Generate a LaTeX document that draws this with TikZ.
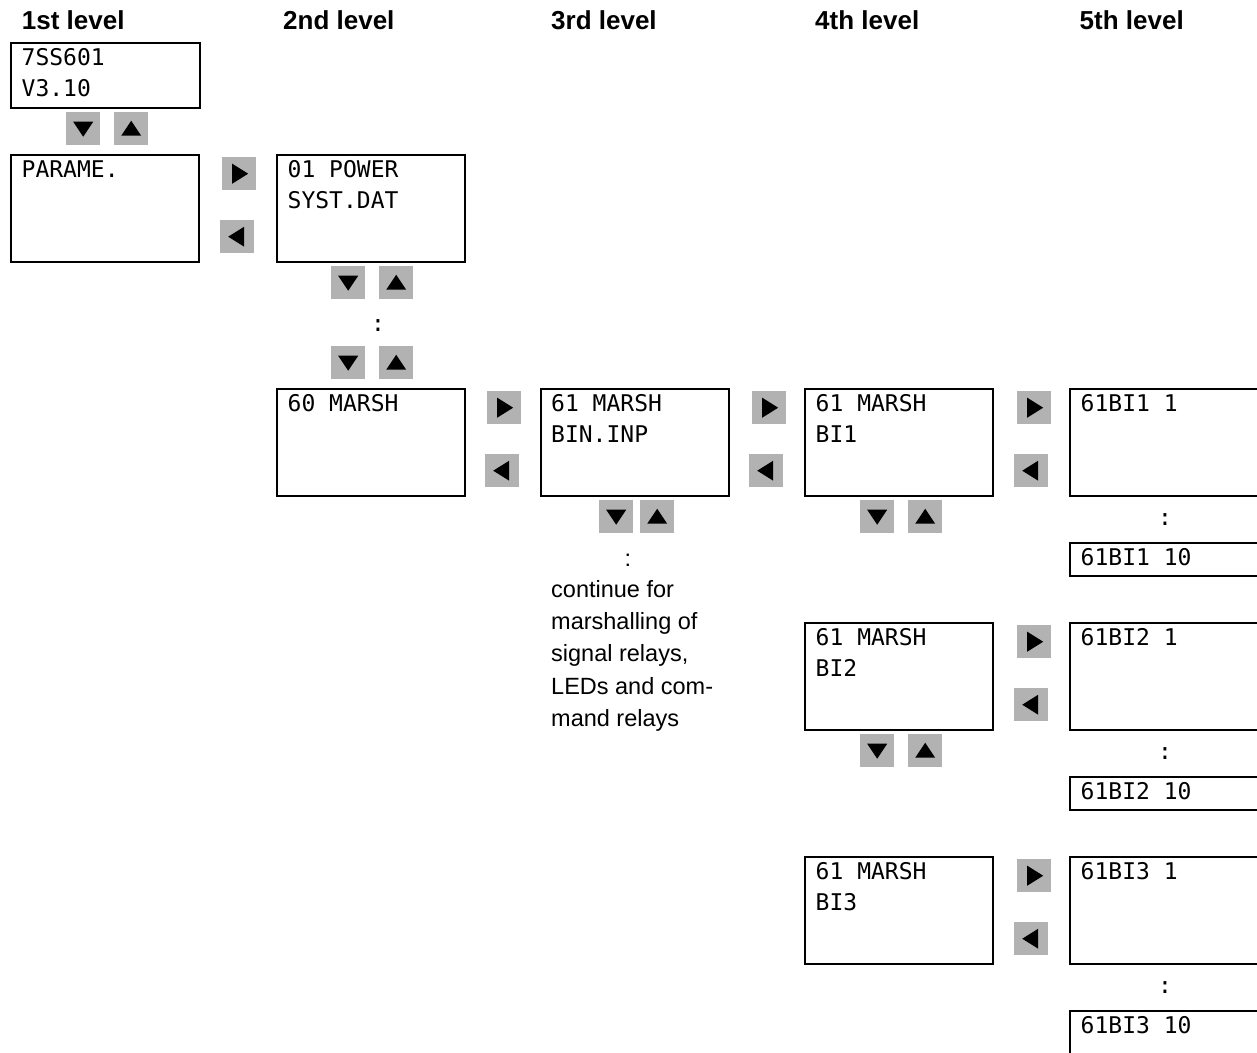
\documentclass[tikz,border=0pt]{standalone}
\usepackage{fontspec}
\setmainfont{Liberation Sans}
\newfontfamily\lcdfont{DejaVu Sans Mono}
\tikzset{
  lcdbox/.style={draw=black, line width=2.2pt, minimum width=188pt, inner sep=0pt, anchor=north west},
  lcdtext/.style={font=\lcdfont\fontsize{23}{31}\selectfont, anchor=base west, inner sep=0pt},
  btn/.style={fill=black!30, minimum width=34pt, minimum height=33pt, inner sep=0pt, anchor=north west},
  head/.style={font=\bfseries\fontsize{26}{30}\selectfont, anchor=base west, inner sep=0pt},
  note/.style={font=\fontsize{23.5}{32}\selectfont, anchor=base west, inner sep=0pt},
  dots/.style={font=\lcdfont\fontsize{23}{31}\selectfont, anchor=center, inner sep=0pt},
}
\newcommand\keydown[2]{\node[btn] (#1) at (#2) {}; \fill[shift={(#1.center)}] (-10,-7) -- (10,-7) -- (0,8) -- cycle;}
\newcommand\keyup[2]{\node[btn] (#1) at (#2) {}; \fill[shift={(#1.center)}] (-10,7) -- (10,7) -- (0,-8) -- cycle;}
\newcommand\keyright[2]{\node[btn] (#1) at (#2) {}; \fill[shift={(#1.center)}] (-7,-10) -- (-7,10) -- (9,0) -- cycle;}
\newcommand\keyleft[2]{\node[btn] (#1) at (#2) {}; \fill[shift={(#1.center)}] (7,-10) -- (7,10) -- (-9,0) -- cycle;}
% name, x, y(top), height, width, line1, line2
\newcommand\lcd[7]{%
  \node[lcdbox, minimum height=#4pt, minimum width=#5pt] (#1) at (#2,#3) {};
  \node[lcdtext] (#1-a) at ([shift={(11.5,23.5)}]#1.north west) {#6};
  \node[lcdtext] (#1-b) at ([shift={(11.5,54.5)}]#1.north west) {#7};
}
\begin{document}
\begin{tikzpicture}[x=1pt,y=-1pt]
\useasboundingbox (0,0) rectangle (1257,1052);
\clip (0,0) rectangle (1257,1052);
\fill[white] (0,0) rectangle (1257,1052);

% headings
\node[head] (h1) at (21.7,29) {1st level};
\node[head] (h2) at (283,29) {2nd level};
\node[head] (h3) at (551,29) {3rd level};
\node[head] (h4) at (815,29) {4th level};
\node[head] (h5) at (1079.5,29) {5th level};

% 1st level
\lcd{b1}{10}{41.5}{65}{189}{7SS601}{V3.10}
\keydown{k1d}{66,112}
\keyup{k1u}{114,112}
\lcd{b2}{10}{154}{107}{188}{PARAME.}{}

% 1st <-> 2nd
\keyright{k12r}{222,157}
\keyleft{k12l}{220,220}

% 2nd level
\lcd{b3}{276}{154}{107}{188}{01 POWER}{SYST.DAT}
\keydown{k3d}{331,266}
\keyup{k3u}{379,266}
\node[dots] (c2) at (378,326) {:};
\keydown{k3d2}{331,346}
\keyup{k3u2}{379,346}
\lcd{b4}{276}{388}{107}{188}{60 MARSH}{}

% 2nd <-> 3rd
\keyright{k45r}{487,391}
\keyleft{k45l}{485,454}

% 3rd level
\lcd{b5}{539.5}{388}{107}{188}{61 MARSH}{BIN.INP}
\keydown{k5d}{599,500}
\keyup{k5u}{640,500}
\node[note, anchor=center] (c3) at (628,560) {:};
\node[note] (n1) at (551,597.7) {continue for};
\node[note] (n2) at (551,629.8) {marshalling of};
\node[note] (n3) at (551,661.9) {signal relays,};
\node[note] (n4) at (551,694) {LEDs and com-};
\node[note] (n5) at (551,726) {mand relays};

% 3rd <-> 4th
\keyright{k56r}{752,391}
\keyleft{k56l}{749,454}

% 4th level
\lcd{b6}{804}{388}{107}{188}{61 MARSH}{BI1}
\keydown{k6d}{860,500}
\keyup{k6u}{908,500}
\lcd{b9}{804}{622}{107}{188}{61 MARSH}{BI2}
\keydown{k9d}{860,734}
\keyup{k9u}{908,734}
\lcd{b12}{804}{856}{107}{188}{61 MARSH}{BI3}

% 4th <-> 5th
\keyright{k67r}{1017,391}
\keyleft{k67l}{1014,454}
\keyright{k910r}{1017,625}
\keyleft{k910l}{1014,688}
\keyright{k1213r}{1017,859}
\keyleft{k1213l}{1014,922}

% 5th level
\lcd{b7}{1069}{388}{107}{250}{61BI1 1}{}
\node[dots] (c51) at (1165,520) {:};
\lcd{b8}{1069}{542}{33}{250}{61BI1 10}{}
\lcd{b10}{1069}{622}{107}{250}{61BI2 1}{}
\node[dots] (c52) at (1165,754) {:};
\lcd{b11}{1069}{776}{33}{250}{61BI2 10}{}
\lcd{b13}{1069}{856}{107}{250}{61BI3 1}{}
\node[dots] (c53) at (1165,988) {:};
\lcd{b14}{1069}{1010}{60}{250}{61BI3 10}{}
\end{tikzpicture}
\end{document}
